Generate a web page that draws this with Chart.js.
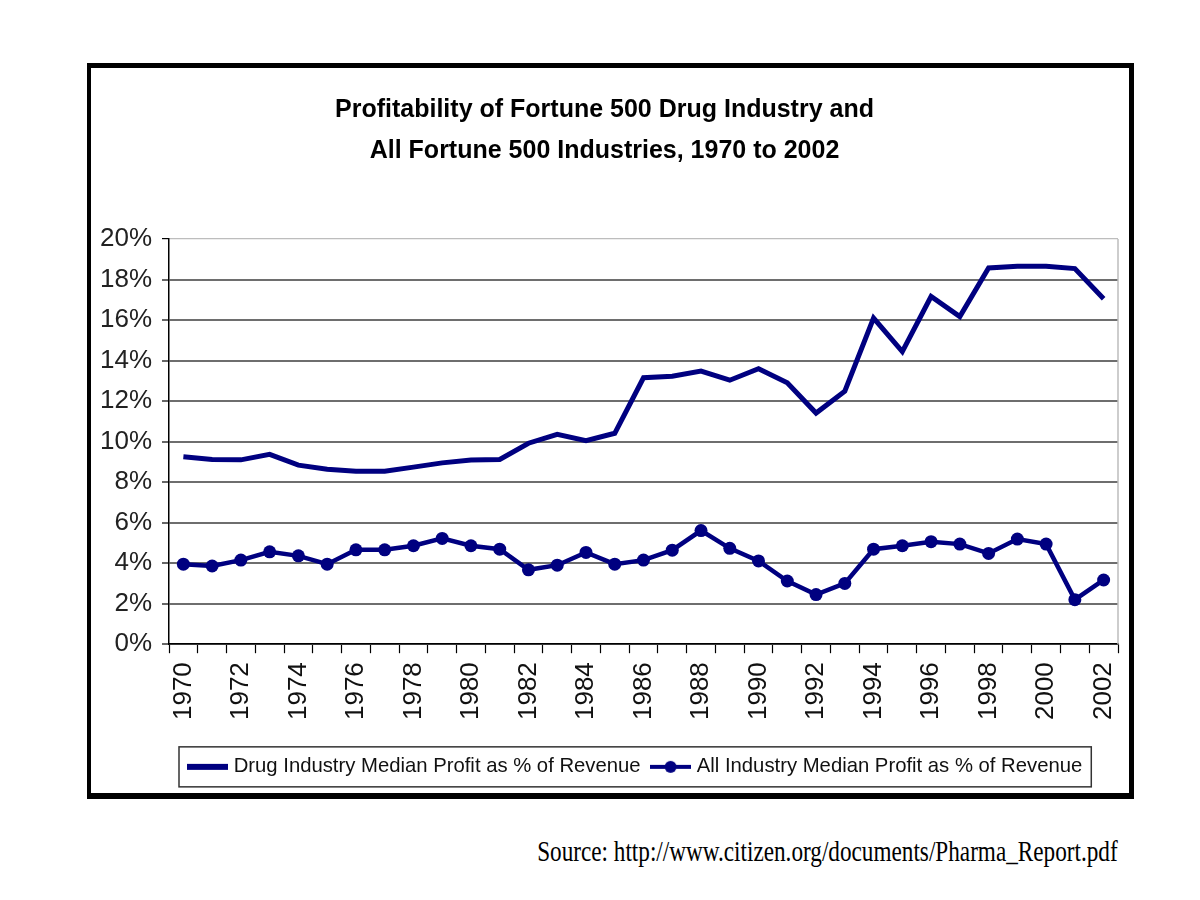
<!DOCTYPE html>
<html>
<head>
<meta charset="utf-8">
<script src="https://cdn.jsdelivr.net/npm/chart.js@4/dist/chart.umd.min.js"></script>
<style>
  html, body { margin: 0; background: #fff; }
  body { width: 1200px; height: 900px; position: relative; overflow: hidden; }
  #frame { position: absolute; left: 87px; top: 63px; width: 1038px; height: 725px;
           border-style: solid; border-color: #000; border-width: 5px 5px 6px 4px; }
  #frame canvas { display: block; }
  #src { position: absolute; right: 82px; top: 835px; white-space: nowrap;
         font-family: "Liberation Serif", "Times New Roman", serif; font-size: 29px; color: #000;
         transform: scaleX(0.8); transform-origin: right top; }
</style>
</head>
<body>
<div id="frame"><canvas id="c" width="1038" height="725"></canvas></div>
<div id="src">Source: http://www.citizen.org/documents/Pharma_Report.pdf</div>
<script>
// years on the x axis
var years = ['1970','1971','1972','1973','1974','1975','1976','1977','1978','1979','1980',
             '1981','1982','1983','1984','1985','1986','1987','1988','1989','1990','1991',
             '1992','1993','1994','1995','1996','1997','1998','1999','2000','2001','2002'];

// median profit as % of revenue
var drugProfit = [9.25, 9.12, 9.1, 9.37, 8.84, 8.64, 8.54, 8.54, 8.74, 8.95, 9.09,
                  9.12, 9.92, 10.36, 10.05, 10.41, 13.15, 13.23, 13.48, 13.03, 13.6, 12.9,
                  11.41, 12.49, 16.1, 14.44, 17.16, 16.17, 18.57, 18.66, 18.66, 18.54, 17.05];
var allProfit = [3.95, 3.86, 4.15, 4.56, 4.36, 3.95, 4.66, 4.66, 4.86, 5.22, 4.86,
                 4.69, 3.67, 3.9, 4.53, 3.95, 4.15, 4.64, 5.61, 4.73, 4.11, 3.12,
                 2.45, 3.0, 4.69, 4.86, 5.06, 4.94, 4.48, 5.19, 4.94, 2.2, 3.17];

var seriesNames = ['Drug Industry Median Profit as % of Revenue',
                   'All Industry Median Profit as % of Revenue'];
var titleLines = ['Profitability of Fortune 500 Drug Industry and',
                  'All Fortune 500 Industries, 1970 to 2002'];

var NAVY = '#000080';
var LEGEND_FONT = 20.3;
Chart.defaults.font.family = '"Liberation Sans", Arial, sans-serif';

// little legend symbols: plain line, line with a dot
function legendMark(withDot) {
  var c = document.createElement('canvas');
  c.width = 41; c.height = 14;
  var g = c.getContext('2d');
  g.fillStyle = NAVY;
  if (withDot) {
    g.fillRect(0, 5, 41, 4);
    g.beginPath(); g.arc(20.5, 7, 6, 0, Math.PI * 2); g.fill();
  } else {
    g.fillRect(0, 4, 41, 6);
  }
  return c;
}
var legendMarks = [legendMark(false), legendMark(true)];

// frame bits: light right edge of the plot, box round the legend, legend shift
var framePlugin = {
  id: 'framebits',
  afterUpdate: function (chart) {
    var lg = chart.legend;
    var hb = lg.legendHitBoxes;
    if (!hb || !hb.length) return;
    var shift = 100.5 - hb[0].left;
    lg.left += shift;
    lg.right += shift;
    hb.forEach(function (h) { h.left += shift; });
  },
  beforeDatasetsDraw: function (chart) {
    var a = chart.chartArea, g = chart.ctx;
    g.save();
    g.strokeStyle = '#bdbdbd';
    g.lineWidth = 1.5;
    g.beginPath();
    g.moveTo(a.right, a.top);
    g.lineTo(a.right, a.bottom);
    g.stroke();
    g.restore();
  },
  afterDraw: function (chart) {
    var hb = chart.legend.legendHitBoxes;
    if (!hb || !hb.length) return;
    var last = hb[hb.length - 1];
    var l = hb[0].left - 4.5 - 8;
    var r = last.left + last.width + 9;
    var t = hb[0].top - (20 - LEGEND_FONT / 2);
    var b = hb[0].top + LEGEND_FONT / 2 + 20;
    var g = chart.ctx;
    g.save();
    g.strokeStyle = '#333';
    g.lineWidth = 1.5;
    g.strokeRect(l, t, r - l, b - t);
    g.restore();
  }
};

new Chart(document.getElementById('c'), {
  type: 'line',
  data: {
    labels: years,
    datasets: [
      { label: seriesNames[0], data: drugProfit, borderColor: NAVY, backgroundColor: NAVY,
        borderWidth: 5, pointRadius: 0, tension: 0 },
      { label: seriesNames[1], data: allProfit, borderColor: NAVY, backgroundColor: NAVY,
        borderWidth: 4.5, pointRadius: 6.5, pointBorderWidth: 0, pointBackgroundColor: NAVY, tension: 0 }
    ]
  },
  options: {
    responsive: false,
    animation: false,
    layout: { padding: { left: 0, right: 11, top: 0, bottom: 6 } },
    plugins: {
      title: {
        display: true,
        text: titleLines,
        color: '#000',
        font: { size: 25, weight: 'bold', lineHeight: 1.64 },
        padding: { top: 21.5, bottom: 67.5 }
      },
      legend: {
        position: 'bottom',
        labels: {
          usePointStyle: true,
          pointStyleWidth: 32,
          padding: 14,
          color: '#111',
          font: { size: LEGEND_FONT },
          generateLabels: function (chart) {
            return Chart.defaults.plugins.legend.labels.generateLabels(chart).map(function (item, i) {
              item.pointStyle = legendMarks[i];
              return item;
            });
          }
        }
      },
      tooltip: { enabled: false }
    },
    scales: {
      x: {
        offset: true,
        grid: { offset: true, drawOnChartArea: false, drawTicks: true, tickLength: 9, tickColor: '#000', tickWidth: 1.2 },
        border: { color: '#000', width: 1.5 },
        ticks: {
          autoSkip: false, maxRotation: 90, minRotation: 90, padding: 9,
          color: '#111', font: { size: 26 },
          callback: function (v, i) { return i % 2 === 0 ? years[i] : ''; }
        },
        afterFit: function (s) { s.height = 98.5; s.paddingLeft = 0; s.paddingRight = 0; }
      },
      y: {
        min: 0, max: 20,
        ticks: { stepSize: 2, padding: 10, color: '#222', font: { size: 26 },
                 callback: function (v) { return v + '%'; } },
        grid: {
          color: function (c) { return c.tick && c.tick.value === 20 ? '#bdbdbd' : '#6e6e6e'; },
          lineWidth: function (c) { return c.tick && c.tick.value === 20 ? 1.2 : 2; },
          tickColor: '#000', tickLength: 7, tickWidth: 1.2
        },
        border: { color: '#000', width: 1.5 },
        afterFit: function (s) { s.width = 78; }
      }
    }
  },
  plugins: [framePlugin]
});
</script>
</body>
</html>
